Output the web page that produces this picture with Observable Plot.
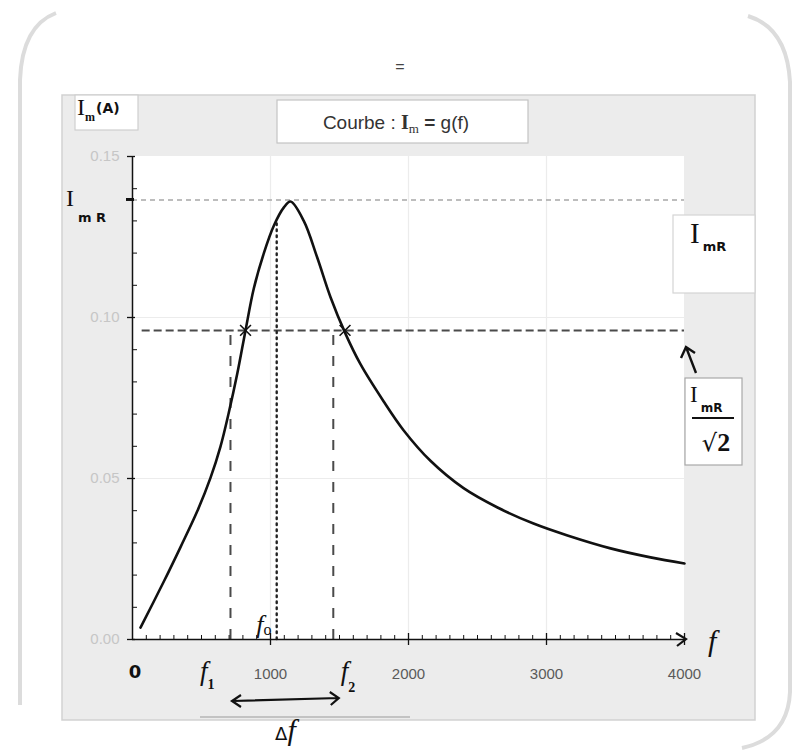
<!DOCTYPE html>
<html>
<head>
<meta charset="utf-8">
<script src="https://cdn.jsdelivr.net/npm/d3@7"></script>
<script src="https://cdn.jsdelivr.net/npm/@observablehq/plot@0.6"></script>
<style>
  html, body { margin: 0; padding: 0; background: #fff; }
  svg { display: block; }
</style>
</head>
<body>
<div id="chart"></div>
<script>
// ---- data ----
const freq    = [58, 227, 348, 469, 565, 638, 698, 759, 819, 879, 952, 1024, 1097, 1145, 1241, 1338, 1435, 1543, 1652, 1819, 1964, 2159, 2399, 2645, 2906, 3152, 3464, 3754, 4000];
const current = [0.0037, 0.0180, 0.0287, 0.0398, 0.0502, 0.0600, 0.0705, 0.0825, 0.0960, 0.1090, 0.1200, 0.1285, 0.1342, 0.1360, 0.1300, 0.1187, 0.1063, 0.0950, 0.0855, 0.0740, 0.0650, 0.0555, 0.0470, 0.0410, 0.0360, 0.0323, 0.0283, 0.0255, 0.0236];
const xTicks = [1000, 2000, 3000, 4000];
const yTicks = [0, 0.05, 0.10, 0.15];
const xGrid = [1000, 2000, 3000];
const yGrid = [0.05, 0.10];
const ImR = 0.1365;          // resonance amplitude line
const halfPower = 0.0960;    // ImR / sqrt(2) line
const f0 = 1045;             // dotted line
const f0Top = 0.130;         // where the dotted line meets the curve
const f1 = 710, f2 = 1455;   // dashed verticals
const crossF = [819, 1540];  // crosses on curve

const points = freq.map((f, i) => ({f, I: current[i]}));
const minorX = d3.range(100, 4000, 100).filter(v => v % 1000 !== 0);
const minorY = d3.range(1, 15).map(v => v / 100).filter(v => Math.round(v * 100) % 5 !== 0);

const hand = "'Liberation Serif', 'DejaVu Serif', serif";

// background: scan frame, grey chart area, white plot area
const background = (index, scales, values, dims) => {
  const g = d3.create("svg:g");
  g.append("path").attr("d", "M20,705 L20,80 Q22,26 56,13")
    .attr("fill", "none").attr("stroke", "#dcdcdc").attr("stroke-width", 4);
  g.append("path").attr("d", "M748,16 Q787,28 790,82 L790,692 Q788,738 742,748")
    .attr("fill", "none").attr("stroke", "#dcdcdc").attr("stroke-width", 4);
  g.append("rect").attr("x", 62).attr("y", 95).attr("width", 693).attr("height", 625)
    .attr("fill", "#ececec").attr("stroke", "#d2d2d2").attr("stroke-width", 1.5);
  g.append("rect").attr("x", dims.marginLeft).attr("y", dims.marginTop)
    .attr("width", dims.width - dims.marginLeft - dims.marginRight)
    .attr("height", dims.height - dims.marginTop - dims.marginBottom)
    .attr("fill", "#fff");
  g.append("line").attr("x1", 200).attr("x2", 410).attr("y1", 717).attr("y2", 717)
    .attr("stroke", "#999").attr("stroke-width", 1.2);
  g.append("text").attr("x", 400).attr("y", 72).attr("text-anchor", "middle")
    .attr("font-family", "'Liberation Sans', Arial, sans-serif").attr("font-size", 16)
    .attr("fill", "#444").text("=");
  return g.node();
};

// handwritten annotations and boxes
const annotations = (index, {x, y}) => {
  const g = d3.create("svg:g").attr("font-family", hand).attr("fill", "#111").attr("text-anchor", "start");
  const box = (bx, by, bw, bh, stroke) => g.append("rect").attr("x", bx).attr("y", by)
    .attr("width", bw).attr("height", bh).attr("fill", "#fff").attr("stroke", stroke).attr("stroke-width", 1.2);

  // arrow head on x axis
  g.append("path").attr("d", `M${x(4000) - 8},${y(0) - 6} L${x(4000) + 2},${y(0)} L${x(4000) - 7},${y(0) + 7}`)
    .attr("fill", "none").attr("stroke", "#111").attr("stroke-width", 2.2);
  // "f" at end of axis
  g.append("text").attr("x", x(4000) + 24).attr("y", y(0) + 12).attr("font-size", 30)
    .attr("font-style", "italic").text("f");
  // "0"
  g.append("text").attr("x", x(0) + 3).attr("y", y(0) + 39).attr("text-anchor", "middle")
    .attr("font-family", "'DejaVu Sans', sans-serif").attr("font-weight", "bold").attr("font-size", 18).text("0");

  // f0
  let t = g.append("text").attr("x", x(f0) - 20).attr("y", y(0) - 6).attr("font-size", 26).attr("font-style", "italic");
  t.append("tspan").text("f");
  t.append("tspan").attr("font-size", 16).attr("dy", 2).attr("font-style", "normal").text("o");
  // f1
  t = g.append("text").attr("x", x(f1) - 30).attr("y", y(0) + 41).attr("font-size", 27).attr("font-style", "italic");
  t.append("tspan").text("f");
  t.append("tspan").attr("font-size", 14).attr("dy", 9).attr("font-style", "normal").attr("font-weight", "bold").text("1");
  // f2
  t = g.append("text").attr("x", x(f2) + 8).attr("y", y(0) + 41).attr("font-size", 27).attr("font-style", "italic");
  t.append("tspan").text("f");
  t.append("tspan").attr("font-size", 14).attr("dy", 12).attr("font-style", "normal").attr("font-weight", "bold").text("2");
  // double arrow Δf
  const ax1 = x(f1) + 2, ax2 = x(f2) + 6, ay = y(0) + 61;
  g.append("path").attr("d",
      `M${ax1},${ay + 1} L${ax2},${ay - 2} M${ax1 + 9},${ay - 5} L${ax1},${ay + 1} L${ax1 + 9},${ay + 7} M${ax2 - 9},${ay - 8} L${ax2},${ay - 2} L${ax2 - 8},${ay + 5}`)
    .attr("fill", "none").attr("stroke", "#111").attr("stroke-width", 2.2);
  t = g.append("text").attr("x", (x(f1) + x(f2)) / 2 + 4).attr("y", y(0) + 101).attr("text-anchor", "middle").attr("font-size", 24);
  t.append("tspan").attr("font-family", "'DejaVu Sans', sans-serif").attr("font-size", 18).text("Δ");
  t.append("tspan").attr("font-style", "italic").attr("font-size", 30).text("f");

  // I_mR on left
  t = g.append("text").attr("x", 66).attr("y", y(ImR) + 7).attr("font-size", 24);
  t.append("tspan").text("I");
  t.append("tspan").attr("dx", 4).attr("dy", 16).attr("font-size", 13).attr("font-weight", "bold")
    .attr("font-family", "'DejaVu Sans', sans-serif").text("m R");
  // tick mark at I_mR
  g.append("line").attr("x1", x(0) - 6).attr("x2", x(0) + 2).attr("y1", y(ImR)).attr("y2", y(ImR))
    .attr("stroke", "#111").attr("stroke-width", 3);

  // I_m(A) box
  box(75, 95, 63, 35, "#cfcfcf");
  t = g.append("text").attr("x", 77).attr("y", 115).attr("font-size", 24);
  t.append("tspan").text("I");
  t.append("tspan").attr("dy", 6).attr("font-size", 12).attr("font-weight", "bold").text("m");
  t.append("tspan").attr("dy", -8).attr("dx", 1).attr("font-size", 14).attr("font-weight", "bold")
    .attr("font-family", "'DejaVu Sans', sans-serif").text("(A)");

  // title box
  box(277, 100, 251, 43, "#c4c4c4");
  t = g.append("text").attr("x", 396).attr("y", 129).attr("text-anchor", "middle")
    .attr("font-family", "'Liberation Sans', Arial, sans-serif").attr("font-size", 19).attr("fill", "#333");
  t.append("tspan").text("Courbe : ");
  t.append("tspan").attr("font-family", "'Liberation Serif', serif").attr("font-weight", "bold").attr("font-size", 20).text("I");
  t.append("tspan").attr("font-family", "'Liberation Serif', serif").attr("font-size", 13).attr("dy", 4).text("m");
  t.append("tspan").attr("dy", -4).attr("font-weight", "bold").text(" = ");
  t.append("tspan").text("g(f)");

  // right I_mR box
  box(673, 215, 82, 78, "#d4d4d4");
  t = g.append("text").attr("x", 690).attr("y", 243).attr("font-size", 29);
  t.append("tspan").text("I");
  t.append("tspan").attr("dx", 3).attr("dy", 8).attr("font-size", 13).attr("font-weight", "bold")
    .attr("font-family", "'DejaVu Sans', sans-serif").text("mR");

  // arrow up to half-power line
  g.append("path").attr("d", "M696,373 L686,347 M681,358 L686,347 L695,353")
    .attr("fill", "none").attr("stroke", "#111").attr("stroke-width", 2.4);

  // I_mR / sqrt2 box
  box(685, 378, 57, 87, "#a8a8a8");
  t = g.append("text").attr("x", 690).attr("y", 402).attr("font-size", 23);
  t.append("tspan").text("I");
  t.append("tspan").attr("dx", 3).attr("dy", 10).attr("font-size", 12).attr("font-weight", "bold")
    .attr("font-family", "'DejaVu Sans', sans-serif").text("mR");
  g.append("line").attr("x1", 692).attr("x2", 734).attr("y1", 418).attr("y2", 418)
    .attr("stroke", "#111").attr("stroke-width", 2.2);
  t = g.append("text").attr("x", 716).attr("y", 451).attr("text-anchor", "middle").attr("font-size", 26)
    .attr("font-family", "'DejaVu Sans', sans-serif");
  t.append("tspan").attr("font-size", 24).text("√");
  t.append("tspan").attr("font-weight", "bold").attr("font-family", hand).text("2");

  return g.node();
};

const chart = Plot.plot({
  width: 804,
  height: 754,
  marginLeft: 132,
  marginRight: 120,
  marginTop: 156,
  marginBottom: 115,
  x: {domain: [0, 4000], axis: null},
  y: {domain: [0, 0.15], axis: null},
  style: {background: "#fff", fontFamily: "'Liberation Sans', Arial, sans-serif"},
  marks: [
    background,
    // faint gridlines
    Plot.ruleX(xGrid, {stroke: "#ececec", strokeWidth: 1.2}),
    Plot.ruleY(yGrid, {stroke: "#ececec", strokeWidth: 1.2}),
    // reference lines
    Plot.ruleY([ImR], {x1: 0, x2: 4000, stroke: "#a8a8a8", strokeWidth: 1.6, strokeDasharray: "5,4"}),
    Plot.ruleY([halfPower], {x1: 70, x2: 4000, stroke: "#4a4a4a", strokeWidth: 2, strokeDasharray: "8,4"}),
    Plot.ruleX([f1, f2], {y1: 0, y2: halfPower, stroke: "#4a4a4a", strokeWidth: 2, strokeDasharray: "10,11"}),
    Plot.ruleX([f0], {y1: 0, y2: f0Top, stroke: "#222", strokeWidth: 2.4, strokeDasharray: "1.5,4.5", strokeLinecap: "round"}),
    // axes
    Plot.ruleY([0], {x1: 0, x2: 4000, stroke: "#111", strokeWidth: 1.5}),
    Plot.ruleX([0], {y1: 0, y2: 0.15, stroke: "#111", strokeWidth: 1.5}),
    Plot.ruleX(xTicks, {y1: 0, y2: 0, insetTop: -6, insetBottom: -6, stroke: "#111", strokeWidth: 1.3}),
    Plot.ruleX(minorX, {y1: 0, y2: 0, insetTop: -4, insetBottom: 0, stroke: "#111", strokeWidth: 1}),
    Plot.ruleY(yTicks, {x1: 0, x2: 0, insetLeft: -5, insetRight: -3, stroke: "#111", strokeWidth: 1.3}),
    Plot.ruleY(minorY, {x1: 0, x2: 0, insetLeft: 0, insetRight: -5, stroke: "#111", strokeWidth: 1}),
    Plot.text(yTicks, {x: 0, y: d => d, dx: -13, textAnchor: "end", text: d => d3.format(".2f")(d), fill: "#c6c6c6", fontSize: 15}),
    Plot.text(xTicks, {x: d => d, y: 0, dy: 35, text: d => String(d), fill: "#5a5a5a", fontSize: 15}),
    // the curve
    Plot.line(points, {x: "f", y: "I", curve: "catmull-rom", stroke: "#111", strokeWidth: 2.6}),
    Plot.dot(crossF, {x: d => d, y: halfPower, symbol: "times", r: 5, stroke: "#111", strokeWidth: 1.6}),
    annotations
  ]
});
document.getElementById("chart").append(chart);
</script>
</body>
</html>
